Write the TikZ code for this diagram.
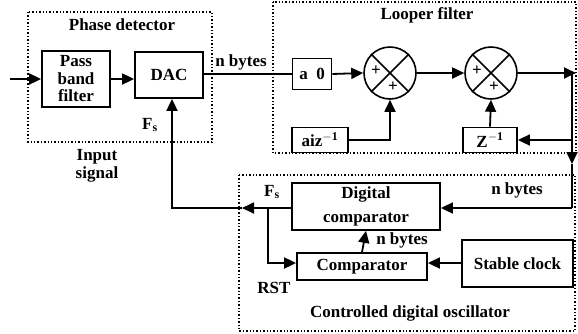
\documentclass[tikz,border=0pt]{standalone}
\usepackage{fontspec}
\setmainfont{Liberation Serif}
\usetikzlibrary{arrows.meta}
\begin{document}
\begin{tikzpicture}[x=1pt,y=-1pt,
  font=\fontsize{17}{17.5}\selectfont\bfseries,
  blk/.style={draw, line width=1.8pt, inner sep=0pt, align=center},
  sumc/.style={draw, circle, line width=1.6pt, minimum size=52pt, inner sep=0pt},
  frame/.style={draw, line width=1.4pt, dotted},
  ln/.style={line width=1.8pt},
  arr/.style={line width=1.8pt, -{Triangle[length=12pt,width=11pt]}},
  lbl/.style={inner sep=0pt, align=center}
]
\useasboundingbox (0,0) rectangle (578,333);
% frames
\draw[frame] (28,12) rectangle (212,142);
\draw[frame] (273,2) rectangle (576,153);
\draw[frame] (239,175) rectangle (575,331);
% titles
\node[lbl] (tpd) at (122,25) {Phase detector};
\node[lbl] (tlf) at (427,15) {Looper filter};
\node[lbl] (tcdo) at (410,313) {Controlled digital oscillator};
% phase detector blocks
\node[blk, minimum width=68pt, minimum height=56pt] (pbf) at (76,79) {Pass\\band\\filter};
\node[blk, minimum width=68pt, minimum height=46pt] (dac) at (169,75) {DAC};
\coordinate (in) at (10,79);
\draw[arr] (in) -- (pbf.west);
\draw[arr] (pbf.east) -- (pbf.east -| dac.west);
\node[lbl] (nb1) at (241,62) {n bytes};
\node[lbl] (fs1) at (150,125) {F$_\mathbf{s}$};
\node[lbl] (ins) at (97,166) {Input\\signal};
% looper filter
\node[blk, minimum width=39pt, minimum height=31pt] (a0) at (312,74) {a\ \ 0};
\node[sumc] (s1) at (390,73) {};
\node[sumc] (s2) at (491,73) {};
\foreach \s in {s1,s2}{
  \draw[line width=1.6pt] (\s.45) -- (\s.225);
  \draw[line width=1.6pt] (\s.135) -- (\s.315);
  \node[lbl] at ([xshift=-14pt,yshift=2pt]\s.center) {+};
  \node[lbl] at ([xshift=3pt,yshift=-14pt]\s.center) {+};
}
\node[blk, minimum width=56pt, minimum height=25pt] (aiz) at (320,140) {aiz$^{\mathbf{-1}}$};
\node[blk, minimum width=54pt, minimum height=25pt] (zinv) at (490,140) {Z$^{\mathbf{-1}}$};
\draw[ln] (dac.east |- a0.west) -- (a0.west);
\draw[arr] (a0.east) -- (s1.west);
\draw[arr] (s1.east) -- (s2.west);
\coordinate (bend1) at (s1.south |- aiz.east);
\draw[arr] (aiz.east) -- (bend1) -- (s1.south);
\draw[arr] (zinv.north) -- (s2.south);
\coordinate (oe) at (576,73);
\draw[arr] (s2.east) -- (oe);
\coordinate (v1) at (572,73);
\coordinate (v2) at (572,140);
\coordinate (v3) at (572,164);
\coordinate (v4) at (572,208);
\draw[arr] (v1) -- (v3);
\draw[ln] (v3) -- (v4);
\draw[arr] (v2) -- (zinv.east);
% controlled digital oscillator
\node[blk, minimum width=148pt, minimum height=47pt, font=\fontsize{17}{24}\selectfont\bfseries] (dc) at (366,206.5) {Digital\\comparator};
\node[blk, minimum width=130pt, minimum height=27pt] (cmp) at (362,266.5) {Comparator};
\node[blk, minimum width=111pt, minimum height=47pt] (sc) at (517.5,263.5) {Stable clock};
\draw[arr] (v4) -- (v4 -| dc.east);
\node[lbl] (nb2) at (517,190) {n bytes};
\node[lbl] (fs2) at (272,192) {F$_\mathbf{s}$};
\coordinate (la) at (242,208);
\coordinate (lb) at (172,208);
\coordinate (br) at (268,208);
\draw[arr] (dc.west |- la) -- (la);
\draw[arr] (la) -- (lb) -- (lb |- dac.south);
\coordinate (br2) at (268,263);
\draw[arr] (br) -- (br2) -- (br2 -| cmp.west);
\draw[arr] (sc.west |- br2) -- (br2 -| cmp.east);
\draw[arr] (cmp.north) -- (dc.south);
\node[lbl] (nb3) at (402,240) {n bytes};
\node[lbl] (rst) at (274,288) {RST};
\end{tikzpicture}
\end{document}
